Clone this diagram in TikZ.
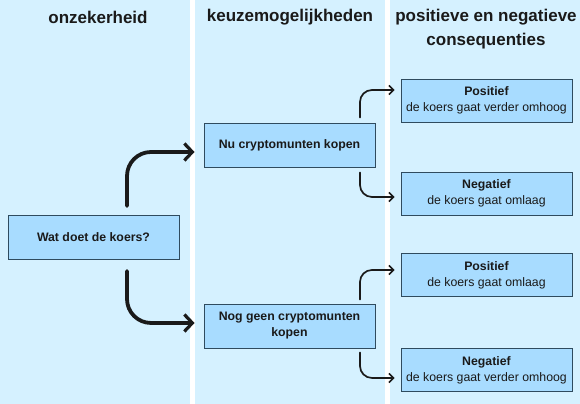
\documentclass[tikz,border=0pt]{standalone}
\usepackage{fontspec}
\setmainfont{Liberation Sans}
\usepackage{tikz}
\usetikzlibrary{arrows.meta,calc,positioning}
\definecolor{lane}{HTML}{D5F1FF}
\definecolor{boxfill}{HTML}{A8DCFF}
\definecolor{boxline}{HTML}{2F4B5E}
\definecolor{ink}{HTML}{1A1A1A}

\begin{document}
\begin{tikzpicture}[x=1pt,y=1pt,
  head/.style={font=\fontsize{17}{24}\selectfont\bfseries,text=ink,align=center},
  choice/.style={draw=boxline,fill=boxfill,line width=0.9pt,minimum width=171pt,minimum height=44pt,
    inner sep=2pt,align=center,font=\fontsize{12.3}{16}\selectfont\bfseries,text=ink},
  result/.style={choice,minimum height=43pt,font=\fontsize{12.3}{16}\selectfont},
  bigarrow/.style={draw=ink,line width=3.8pt,rounded corners=24pt,line cap=round,
    -{Straight Barb[length=8pt,width=17pt,line width=3.2pt]},shorten >=9pt},
  smallarrow/.style={draw=ink,line width=1.7pt,rounded corners=12pt,line cap=round,
    -{Straight Barb[length=4.5pt,width=9pt,line width=1.5pt]},shorten >=6pt}]
% lanes
\fill[white] (0,0) rectangle (580,404);
\fill[lane] (0,0) rectangle (190,404);
\fill[lane] (195,0) rectangle (385,404);
\fill[lane] (390,0) rectangle (580,404);
% headings
\node[head] (h1) at (98,387) {onzekerheid};
\node[head] (h2) at (290,387) {keuzemogelijkheden};
\node[head] (h3) at (486,375) {positieve en negatieve\\consequenties};
% boxes
\node[choice] (wat) at (93.5,166.5) {Wat doet de koers?};
\node[choice] (nu) at (289.5,259) {Nu cryptomunten kopen};
\node[choice] (nog) at (289.5,78) {Nog geen cryptomunten\\kopen};
\node[result] (pos1) at (486.5,303.5) {\textbf{Positief}\\de koers gaat verder omhoog};
\node[result] (neg1) at (486.5,210.5) {\textbf{Negatief}\\de koers gaat omlaag};
\node[result] (pos2) at (486.5,129) {\textbf{Positief}\\de koers gaat omlaag};
\node[result] (neg2) at (486.5,34) {\textbf{Negatief}\\de koers gaat verder omhoog};
% arrows
\draw[bigarrow] ($(wat.north)+(33.5,9)$) |- ([yshift=-7pt]nu.west);
\draw[bigarrow] ($(wat.south)+(33.5,-11)$) |- ([yshift=3pt]nog.west);
\draw[smallarrow] ($(nu.north)+(70.5,5)$) |- ([yshift=10.5pt]pos1.west);
\draw[smallarrow] ($(nu.south)+(70.5,-5)$) |- ([yshift=-3.5pt]neg1.west);
\draw[smallarrow] ($(nog.north)+(70.5,4)$) |- ([yshift=5pt]pos2.west);
\draw[smallarrow] ($(nog.south)+(70.5,-4)$) |- ([yshift=-8pt]neg2.west);
\end{tikzpicture}
\end{document}
